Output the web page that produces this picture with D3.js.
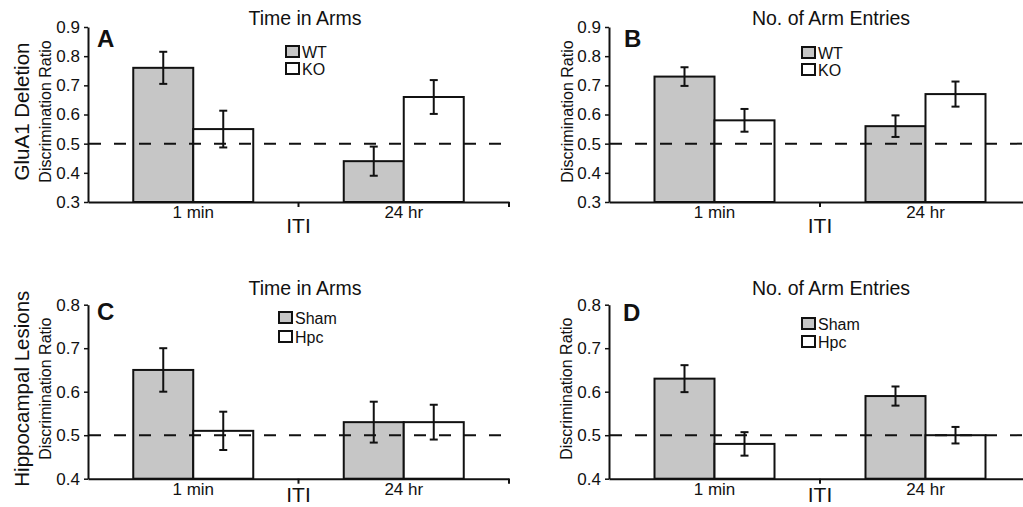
<!DOCTYPE html>
<html><head><meta charset="utf-8">
<script src="https://cdn.jsdelivr.net/npm/d3@7"></script>
<style>
body{margin:0;background:#fff;}
svg{display:block;font-family:"Liberation Sans",Arial,Helvetica,sans-serif;}
</style></head>
<body><svg id="chart" width="1023" height="507"></svg>
<script>
// ---------- DATA ----------
const categories = ["1 min", "24 hr"];
const xAxisLabel = "ITI";
const yAxisLabel = "Discrimination Ratio";
const rowLabels = ["GluA1 Deletion", "Hippocampal Lesions"];
const panelTitles = ["Time in Arms", "No. of Arm Entries", "Time in Arms", "No. of Arm Entries"];
const panelLetters = ["A", "B", "C", "D"];
const seriesTop = ["WT", "KO"];
const seriesBottom = ["Sham", "Hpc"];
const ticksTop = [0.3, 0.4, 0.5, 0.6, 0.7, 0.8, 0.9];
const ticksBottom = [0.4, 0.5, 0.6, 0.7, 0.8];
const chanceLevel = 0.5;

// Panel A: Time in Arms (GluA1)
const aWT = [0.76, 0.44], aWTerr = [0.055, 0.050];
const aKO = [0.55, 0.66], aKOerr = [0.063, 0.058];
// Panel B: No. of Arm Entries (GluA1)
const bWT = [0.73, 0.56], bWTerr = [0.032, 0.037];
const bKO = [0.58, 0.67], bKOerr = [0.039, 0.043];
// Panel C: Time in Arms (Hippocampal)
const cSham = [0.65, 0.53], cShamErr = [0.050, 0.047];
const cHpc = [0.51, 0.53], cHpcErr = [0.044, 0.040];
// Panel D: No. of Arm Entries (Hippocampal)
const dSham = [0.63, 0.59], dShamErr = [0.031, 0.022];
const dHpc = [0.48, 0.50], dHpcErr = [0.027, 0.019];

// ---------- LAYOUT ----------
const svg = d3.select("#chart");
const FILLS = ["#c6c6c6", "#ffffff"];
const INK = "#111";

const panels = [
  {left: 88, right: 509, top: 27, bottom: 202, ticks: ticksTop, series: seriesTop,
   vals: [aWT, aKO], errs: [aWTerr, aKOerr], title: panelTitles[0], letter: panelLetters[0],
   titleX: 305, titleY: 25, letterX: 97, letterY: 47, legX: 286, legY: 46, legGap: 17,
   ylabX: 45, rowLabel: rowLabels[0], rowX: 21, itiY: 233},
  {left: 609, right: 1031, top: 27, bottom: 202, ticks: ticksTop, series: seriesTop,
   vals: [bWT, bKO], errs: [bWTerr, bKOerr], title: panelTitles[1], letter: panelLetters[1],
   titleX: 831, titleY: 25, letterX: 624, letterY: 47, legX: 802, legY: 47, legGap: 17,
   ylabX: 567, itiY: 233},
  {left: 88, right: 509, top: 304.7, bottom: 478.7, ticks: ticksBottom, series: seriesBottom,
   vals: [cSham, cHpc], errs: [cShamErr, cHpcErr], title: panelTitles[2], letter: panelLetters[2],
   titleX: 305, titleY: 295, letterX: 97, letterY: 320, legX: 279, legY: 312, legGap: 19,
   ylabX: 45, rowLabel: rowLabels[1], rowX: 21, itiY: 502},
  {left: 609, right: 1031, top: 304.7, bottom: 478.7, ticks: ticksBottom, series: seriesBottom,
   vals: [dSham, dHpc], errs: [dShamErr, dHpcErr], title: panelTitles[3], letter: panelLetters[3],
   titleX: 831, titleY: 295, letterX: 623, letterY: 321, legX: 802, legY: 318, legGap: 18,
   ylabX: 566, itiY: 502}
];

panels.forEach(drawPanel);

function drawPanel(p) {
  const g = svg.append("g");
  const y = d3.scaleLinear()
    .domain([p.ticks[0], p.ticks[p.ticks.length - 1]])
    .range([p.bottom, p.top]);
  const x0 = d3.scaleBand().domain(categories).range([p.left, p.right]).padding(0);
  const barW = 60;
  const x1 = d3.scaleBand().domain(p.series)
    .range([x0.bandwidth() / 2 - barW, x0.bandwidth() / 2 + barW]).padding(0);

  // bars
  p.series.forEach((s, si) => {
    g.append("g").selectAll("rect").data(categories).join("rect")
      .attr("x", (c) => x0(c) + x1(s))
      .attr("y", (c, i) => y(p.vals[si][i]))
      .attr("width", x1.bandwidth())
      .attr("height", (c, i) => y(p.ticks[0]) - y(p.vals[si][i]))
      .attr("fill", FILLS[si])
      .attr("stroke", INK)
      .attr("stroke-width", 2);
  });

  // chance line
  g.append("line")
    .attr("x1", p.left + 1).attr("x2", p.right)
    .attr("y1", y(chanceLevel)).attr("y2", y(chanceLevel))
    .attr("stroke", INK).attr("stroke-width", 2)
    .attr("stroke-dasharray", "12,13");

  // error bars
  p.series.forEach((s, si) => {
    categories.forEach((c, i) => {
      const cx = x0(c) + x1(s) + x1.bandwidth() / 2;
      const v = p.vals[si][i], e = p.errs[si][i];
      const eg = g.append("g").attr("stroke", INK).attr("stroke-width", 2);
      eg.append("line").attr("x1", cx).attr("x2", cx).attr("y1", y(v + e)).attr("y2", y(v - e));
      eg.append("line").attr("x1", cx - 4).attr("x2", cx + 4).attr("y1", y(v + e)).attr("y2", y(v + e));
      eg.append("line").attr("x1", cx - 4).attr("x2", cx + 4).attr("y1", y(v - e)).attr("y2", y(v - e));
    });
  });

  // y axis
  const ya = g.append("g").attr("transform", `translate(${p.left},0)`)
    .call(d3.axisLeft(y).tickValues(p.ticks).tickFormat(d3.format(".1f"))
      .tickSize(4).tickSizeOuter(0).tickPadding(4));
  ya.select(".domain").attr("stroke", INK).attr("stroke-width", 2);
  ya.selectAll(".tick line").attr("stroke", INK).attr("stroke-width", 1.5);
  ya.selectAll(".tick text").attr("fill", INK).style("font-size", "17px")
    .style("font-family", "'Liberation Sans',Arial,sans-serif");

  // x axis (labels at band centers)
  const xa = g.append("g").attr("transform", `translate(0,${p.bottom})`)
    .call(d3.axisBottom(x0).tickSize(0).tickSizeOuter(0).tickPadding(4));
  xa.select(".domain").attr("stroke", INK).attr("stroke-width", 2);
  xa.selectAll(".tick text").attr("fill", INK).style("font-size", "17px")
    .style("font-family", "'Liberation Sans',Arial,sans-serif");
  // boundary ticks
  const bounds = categories.slice(1).map((c) => x0(c)).concat([p.right]);
  g.selectAll(null).data(bounds).join("line")
    .attr("x1", (d) => d).attr("x2", (d) => d)
    .attr("y1", p.bottom).attr("y2", p.bottom + 5)
    .attr("stroke", INK).attr("stroke-width", 2);

  // x-axis title
  g.append("text").attr("x", x0(categories[1])).attr("y", p.itiY)
    .attr("text-anchor", "middle").attr("fill", INK).style("font-size", "21px").text(xAxisLabel);

  // panel title
  g.append("text").attr("x", p.titleX).attr("y", p.titleY)
    .attr("text-anchor", "middle").attr("fill", INK).style("font-size", "19.5px").text(p.title);

  // panel letter
  g.append("text").attr("x", p.letterX).attr("y", p.letterY)
    .attr("fill", INK).style("font-size", "24px").style("font-weight", "bold").text(p.letter);

  // legend
  p.series.forEach((s, si) => {
    const ly = p.legY + si * p.legGap;
    g.append("rect").attr("x", p.legX).attr("y", ly).attr("width", 13).attr("height", 11)
      .attr("fill", FILLS[si]).attr("stroke", INK).attr("stroke-width", 2);
    g.append("text").attr("x", p.legX + 16).attr("y", ly + 11.5)
      .attr("fill", INK).style("font-size", "16px").text(s);
  });

  // y-axis label
  const midY = (p.top + p.bottom) / 2 - 3;
  g.append("text").attr("transform", `translate(${p.ylabX + 6},${midY}) rotate(-90)`)
    .attr("text-anchor", "middle").attr("fill", INK).style("font-size", "16px").text(yAxisLabel);

  if (p.rowLabel) {
    g.append("text").attr("transform", `translate(${p.rowX + 8},${midY}) rotate(-90)`)
      .attr("text-anchor", "middle").attr("fill", INK).style("font-size", "20.5px").text(p.rowLabel);
  }
}
</script>
</body></html>
